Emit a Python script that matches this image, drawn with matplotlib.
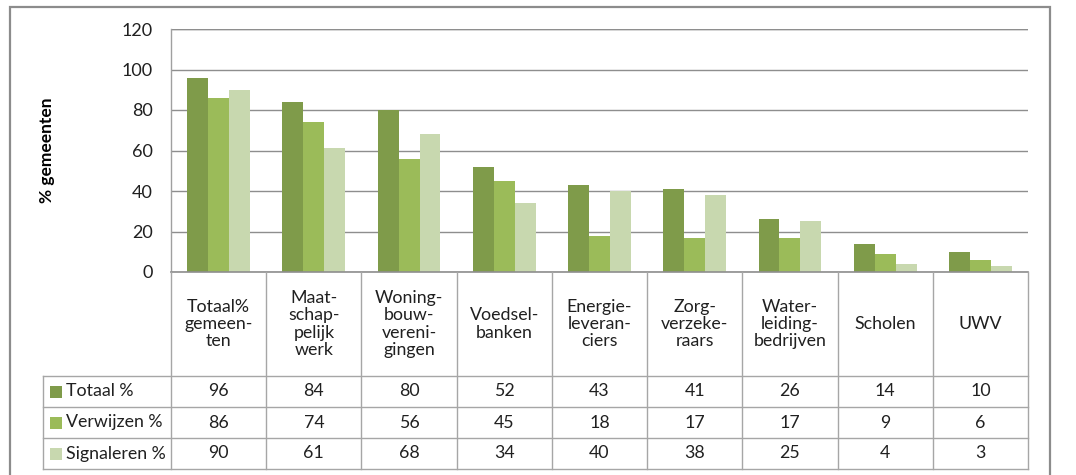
import matplotlib
matplotlib.use("Agg")
import matplotlib.pyplot as plt
from matplotlib.patches import Rectangle
from matplotlib.lines import Line2D

plt.rcParams['font.family'] = ['Lato', 'DejaVu Sans']

categories = ["Totaal%\ngemeen-\nten", "Maat-\nschap-\npelijk\nwerk", "Woning-\nbouw-\nvereni-\ngingen",
              "Voedsel-\nbanken", "Energie-\nleveran-\nciers", "Zorg-\nverzeke-\nraars",
              "Water-\nleiding-\nbedrijven", "Scholen", "UWV"]
series_names = ["Totaal %", "Verwijzen %", "Signaleren %"]
totaal = [96, 84, 80, 52, 43, 41, 26, 14, 10]
verwijzen = [86, 74, 56, 45, 18, 17, 17, 9, 6]
signaleren = [90, 61, 68, 34, 40, 38, 25, 4, 3]
yticks = [0, 20, 40, 60, 80, 100, 120]

colors = ["#7F9B4A", "#9BBB59", "#C8D8AF"]
series = [totaal, verwijzen, signaleren]

W, H = 1076, 475
fig = plt.figure(figsize=(W/100, H/100), dpi=100)

def fx(px): return px / W
def fy(py): return 1 - py / H

# outer frame
fig.patches.append(Rectangle((fx(10), fy(480)), fx(1050) - fx(10), fy(7) - fy(480),
                             transform=fig.transFigure, fill=False, edgecolor="#8C8C8C",
                             linewidth=1.6, clip_on=False))

L, R, T, B = 171, 1028, 29, 272
ax = fig.add_axes([fx(L), fy(B), fx(R) - fx(L), fy(T) - fy(B)])
n = len(categories)
bw = 0.22
for k, (vals, c) in enumerate(zip(series, colors)):
    xs = [i + (k - 1) * bw for i in range(n)]
    ax.bar(xs, vals, width=bw, color=c, edgecolor="none", zorder=3, label=series_names[k])
ax.set_xlim(-0.5, n - 0.5)
ax.set_ylim(0, 120)
ax.set_yticks(yticks)
ax.set_yticklabels([str(v) for v in yticks], fontsize=13, color="#202020")
ax.tick_params(axis='y', length=0, pad=13)
ax.set_xticks([])
ax.grid(axis='y', color="#8E8E8E", linewidth=1.0, zorder=0)
for s in ["top", "right", "bottom"]:
    ax.spines[s].set_visible(False)
ax.spines["left"].set_color("#A0A0A0")
ax.spines["left"].set_linewidth(1.0)
ax.axhline(120, color="#8E8E8E", linewidth=1.0, zorder=0)
ax.set_ylabel("% gemeenten", fontsize=12.5, fontweight='bold', labelpad=48)

# table
colw = (R - L) / n
leg_left = -0.5 - (L - 43) / colw
TB = 469
tax = fig.add_axes([fx(43), fy(TB), fx(R) - fx(43), fy(B) - fy(TB)])
tax.set_xlim(leg_left, n - 0.5)
tax.set_ylim(TB - B, 0)
tax.axis("off")
lc = "#A6A6A6"
row_lines = [104, 135, 166, 197]
tax.add_line(Line2D([-0.5, n - 0.5], [0, 0], color="#8E8E8E", lw=1.2, clip_on=False))
for y in row_lines:
    tax.add_line(Line2D([leg_left, n - 0.5], [y, y], color=lc, lw=1.0, clip_on=False))
for i in range(n + 1):
    tax.add_line(Line2D([i - 0.5, i - 0.5], [0, 197], color=lc, lw=1.0, clip_on=False))
tax.add_line(Line2D([leg_left, leg_left], [104, 197], color=lc, lw=1.0, clip_on=False))

for i, cat in enumerate(categories):
    tax.text(i, 52, cat, ha='center', va='center', fontsize=12.8, linespacing=1.1, color="#202020")
for r, (name, vals, c) in enumerate(zip(series_names, series, colors)):
    yc = (row_lines[r] + row_lines[r + 1]) / 2
    for i, v in enumerate(vals):
        tax.text(i, yc, str(v), ha='center', va='center', fontsize=12.8, color="#202020")
    sq_x = leg_left + 7 / colw
    tax.add_patch(Rectangle((sq_x, yc - 6), 12 / colw, 12, facecolor=c, edgecolor="none", clip_on=False))
    tax.text(leg_left + 23 / colw, yc, name, ha='left', va='center', fontsize=12.8, color="#202020")

fig.savefig("out.png", dpi=100)
